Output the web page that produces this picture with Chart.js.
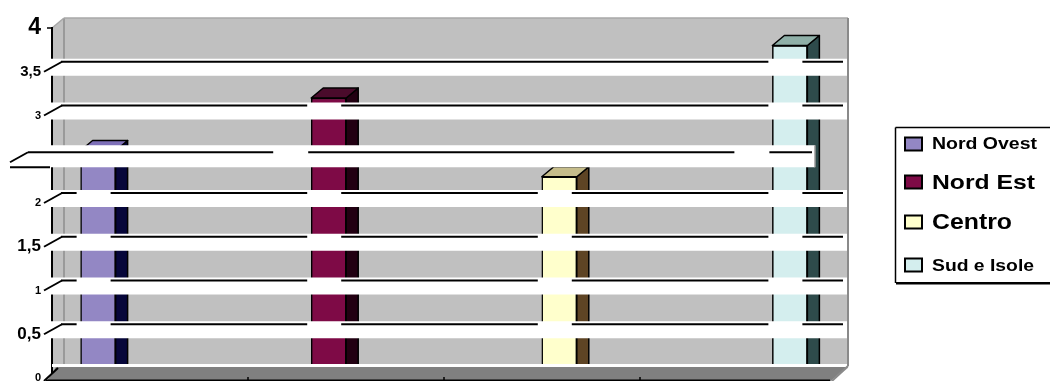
<!DOCTYPE html>
<html><head><meta charset="utf-8">
<script src="https://cdn.jsdelivr.net/npm/chart.js@4"></script>
<style>html,body{margin:0;padding:0;background:#fff;overflow:hidden}</style></head>
<body><canvas id="c" width="1050" height="381"></canvas>
<script>
// ---- data ----
const categories = ['Nord Ovest', 'Nord Est', 'Centro', 'Sud e Isole'];
const values = [2.6, 3.2, 2.3, 3.8];
const yTicks = [0, 0.5, 1, 1.5, 2, 2.5, 3, 3.5, 4];
const tickLabels = ['0', '0,5', '1', '1,5', '2', '', '3', '3,5', '4'];

// ---- styles ----
const tickFontSizes = [11, 17, 11, 17, 11, 11, 11, 15, 23];
const frontColors = ['#9387C4', '#7E0A46', '#FFFFCC', '#D4EEEE'];
const sideColors = ['#06063A', '#220012', '#5E4424', '#2E4B4B'];
const topColors = ['#7E70B8', '#4A0B2B', '#C5BC8A', '#8FB0A8'];
const legendFontSizes = [16, 21, 22, 17];
const legendWidths = [105, 103, 80, 102];
const legendY = [144, 182, 222, 265];
const FONT = '"Liberation Sans", Arial, sans-serif';
const DX = 12, DY = -10;

function seg(ctx, x1, y1, x2, y2) { ctx.beginPath(); ctx.moveTo(x1, y1); ctx.lineTo(x2, y2); ctx.stroke(); }

function drawBandLine(ctx, y, xs, xe, gaps) {
  gaps.sort((a, b) => a[0] - b[0]);
  let x = xs;
  for (const g of gaps) {
    if (g[0] > x) seg(ctx, x, y, Math.min(g[0], xe), y);
    x = Math.max(x, g[1]);
  }
  if (x < xe) seg(ctx, x, y, xe, y);
}

const fx = {
  id: 'fx',
  beforeDraw(chart) {
    const { ctx, chartArea: ca } = chart;
    ctx.save();
    ctx.fillStyle = '#C0C0C0';
    ctx.beginPath();
    ctx.moveTo(ca.left, ca.top);
    ctx.lineTo(ca.left + DX, ca.top + DY);
    ctx.lineTo(ca.right + DX, ca.top + DY);
    ctx.lineTo(ca.right + DX, ca.bottom + DY);
    ctx.lineTo(ca.right, ca.bottom);
    ctx.lineTo(ca.left, ca.bottom);
    ctx.closePath();
    ctx.fill();
    ctx.strokeStyle = '#8E8E8E';
    ctx.lineWidth = 1.5;
    seg(ctx, ca.left + DX, ca.top + DY, ca.left + DX, ca.bottom + DY);
    ctx.strokeStyle = '#A8A8A8';
    seg(ctx, ca.left + DX, ca.top + DY, ca.right + DX, ca.top + DY);
    seg(ctx, ca.left, ca.top, ca.left + DX, ca.top + DY);
    ctx.restore();
  },
  afterDatasetsDraw(chart) {
    const { ctx, chartArea: ca } = chart;
    const ys = chart.scales.y;
    ctx.save();
    // 3D faces of bars
    const bars = [];
    chart.data.datasets.forEach((ds, i) => {
      const meta = chart.getDatasetMeta(i);
      meta.data.forEach(el => {
        const p = el.getProps(['x', 'y', 'base', 'width'], true);
        const l = p.x - p.width / 2, r = p.x + p.width / 2;
        bars.push({ left: l, top: p.y });
        ctx.lineWidth = 1.5;
        ctx.strokeStyle = '#000';
        ctx.lineJoin = 'round';
        ctx.fillStyle = sideColors[i];
        ctx.beginPath();
        ctx.moveTo(r, p.y); ctx.lineTo(r + DX, p.y + DY); ctx.lineTo(r + DX, p.base + DY); ctx.lineTo(r, p.base);
        ctx.closePath(); ctx.fill(); ctx.stroke();
        ctx.fillStyle = topColors[i];
        ctx.beginPath();
        ctx.moveTo(l, p.y); ctx.lineTo(l + DX, p.y + DY); ctx.lineTo(r + DX, p.y + DY); ctx.lineTo(r, p.y);
        ctx.closePath(); ctx.fill(); ctx.stroke();
      });
    });
    // gridline bands
    ctx.lineWidth = 2;
    ctx.strokeStyle = '#000';
    yTicks.forEach(v => {
      if (v === 0 || v === 4) return;
      const fy = ys.getPixelForValue(v);
      const by = fy + DY;
      if (v === 2.5) {
        const shift = -33;
        const bandTop = by - 4;
        ctx.fillStyle = '#fff';
        ctx.fillRect(0, bandTop, ca.right + DX + shift, 22);
        ctx.strokeStyle = '#9A9A9A'; ctx.lineWidth = 1.5;
        seg(ctx, ca.right + DX + shift, bandTop, ca.right + DX + shift, by + 18);
        ctx.strokeStyle = '#000'; ctx.lineWidth = 2;
        const gaps = bars.filter(b => b.top < bandTop).map(b => [b.left - 5 + shift, b.left + 30 + shift]);
        drawBandLine(ctx, by + 3, 28, ca.right + DX + shift - 3, gaps);
        seg(ctx, 10, by + 13, 28, by + 3);
        seg(ctx, 10, by + 18, 50, by + 18);
        return;
      }
      const bandTop = by - 3;
      ctx.fillStyle = '#fff';
      ctx.fillRect(ca.left - 1, bandTop, ca.right + DX - ca.left, 17);
      const gaps = bars.filter(b => b.top < bandTop).map(b => [b.left - 4, b.left + 30]);
      drawBandLine(ctx, by, ca.left + DX - 3, ca.right + DX - 5, gaps);
      seg(ctx, ca.left - 8, fy, ca.left + DX - 2, by);
    });
    // white line above floor and floor
    ctx.fillStyle = '#fff';
    ctx.fillRect(ca.left, ca.bottom + DY - 4, ca.right + DX - ca.left, 3);
    ctx.fillStyle = '#808080';
    ctx.beginPath();
    ctx.moveTo(ca.left - 6, ca.bottom + 4);
    ctx.lineTo(ca.left + 4, ca.bottom + DY - 1);
    ctx.lineTo(ca.right + DX - 2, ca.bottom + DY - 1);
    ctx.lineTo(ca.right - 6, ca.bottom + 4);
    ctx.closePath(); ctx.fill();
    ctx.strokeStyle = '#000'; ctx.lineWidth = 2;
    seg(ctx, ca.left - 8, ca.bottom + 3, ca.left + 6, ca.bottom + DY);
    seg(ctx, ca.left - 6, ca.bottom + 2.5, ca.right - 6, ca.bottom + 2.5);
    ctx.lineWidth = 1.5;
    for (let k = 1; k < 4; k++) {
      const x = ca.left + k * (ca.right - ca.left) / 4;
      seg(ctx, x, ca.bottom - 1, x, ca.bottom + 4);
    }
    seg(ctx, ca.left - 5, ca.top, ca.left, ca.top);
    // right wall edge
    ctx.strokeStyle = '#8A8A8A'; ctx.lineWidth = 2;
    seg(ctx, ca.right + DX, ca.top + DY, ca.right + DX, ca.bottom + DY - 2);
    seg(ctx, ca.right + DX, ca.bottom + DY - 2, ca.right - 4, ca.bottom + 3);
    ctx.restore();
  },
  afterDraw(chart) {
    const { ctx } = chart;
    ctx.save();
    ctx.fillStyle = '#fff';
    ctx.fillRect(895, 127, 160, 156);
    ctx.strokeStyle = '#000';
    ctx.lineWidth = 1.5;
    seg(ctx, 895.5, 127.5, 1050, 127.5);
    seg(ctx, 895.5, 127.5, 895.5, 283);
    ctx.fillStyle = '#000';
    ctx.fillRect(896, 282, 160, 2.5);
    chart.data.datasets.forEach((ds, i) => {
      const cy = legendY[i];
      ctx.fillStyle = ds.backgroundColor;
      ctx.fillRect(905, cy - 6.5, 17, 13);
      ctx.lineWidth = 2;
      ctx.strokeStyle = '#000';
      ctx.strokeRect(905, cy - 6.5, 17, 13);
      ctx.font = 'bold ' + legendFontSizes[i] + 'px ' + FONT;
      ctx.textBaseline = 'middle';
      ctx.textAlign = 'left';
      ctx.fillStyle = '#000';
      const w = ctx.measureText(ds.label).width;
      const sx = legendWidths[i] / w;
      ctx.save();
      ctx.translate(932, cy + 1);
      ctx.scale(sx, 1);
      ctx.fillText(ds.label, 0, 0);
      ctx.restore();
    });
    ctx.restore();
  }
};

const datasets = categories.map((c, i) => ({
  label: c,
  data: [{ x: i, y: values[i] }],
  backgroundColor: frontColors[i],
  borderColor: '#000',
  borderWidth: 1.5,
  barThickness: 35,
  grouped: false
}));

new Chart(document.getElementById('c'), {
  type: 'bar',
  data: { datasets },
  plugins: [fx],
  options: {
    responsive: false,
    animation: false,
    events: [],
    layout: { padding: { top: 28, bottom: 3, left: 0, right: 214 } },
    plugins: { legend: { display: false }, tooltip: { enabled: false } },
    scales: {
      x: { type: 'linear', min: -0.2, max: 3.2, offset: false, display: false },
      y: {
        min: 0, max: 4,
        afterBuildTicks(s) { s.ticks = yTicks.map(v => ({ value: v })); },
        afterFit(s) { s.width = 52; s.paddingTop = 0; s.paddingBottom = 0; },
        grid: { display: false, drawTicks: false },
        border: { display: true, color: '#000', width: 2 },
        ticks: {
          padding: 11,
          color: '#000',
          autoSkip: false,
          callback: (v) => tickLabels[yTicks.indexOf(v)],
          font: (ctx) => {
            const idx = ctx.tick ? yTicks.indexOf(ctx.tick.value) : -1;
            return { family: FONT, weight: 'bold', size: idx >= 0 ? tickFontSizes[idx] : 11 };
          }
        }
      }
    }
  }
});
</script>
</body></html>
